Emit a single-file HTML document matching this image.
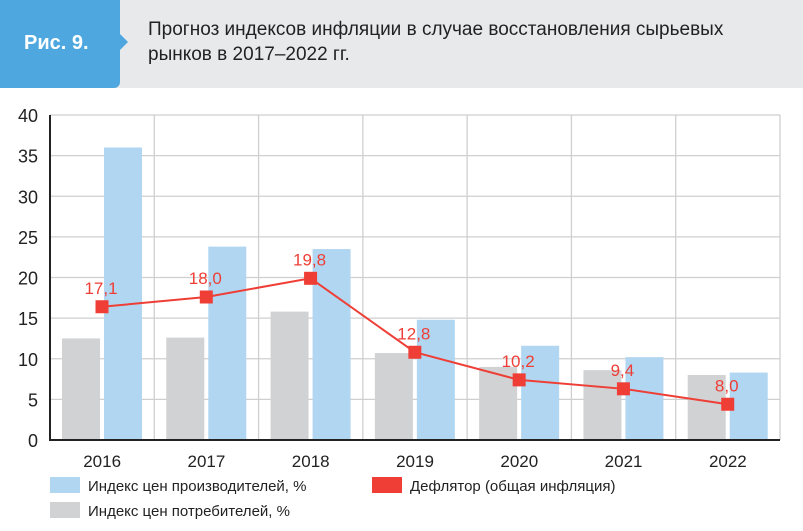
<!DOCTYPE html>
<html><head><meta charset="utf-8"><style>
body{margin:0;width:803px;height:531px;background:#fff;font-family:"Liberation Sans",sans-serif;overflow:hidden;position:relative}
#hdr{position:absolute;left:0;top:0;width:803px;height:88px;background:#e8e9eb}
#tab{position:absolute;left:0;top:0;width:120px;height:88px;background:#4ea7de;border-radius:0 0 6px 0}
#tab:after{content:"";position:absolute;right:-8px;top:34px;border-left:8px solid #4ea7de;border-top:8px solid transparent;border-bottom:8px solid transparent}
#tabtxt{position:absolute;left:24px;top:32px;color:#fff;font-weight:bold;font-size:20px}
#title{position:absolute;left:148px;top:17px;font-size:19px;line-height:25px;color:#222}
svg{position:absolute;left:0;top:0}
</style></head><body>
<div id="hdr"></div>
<div id="tab"><span id="tabtxt">Рис. 9.</span></div>
<div id="title">Прогноз индексов инфляции в случае восстановления сырьевых<br>рынков в 2017–2022 гг.</div>
<svg id="c" width="803" height="531"></svg>
<script>
const years=["2016","2017","2018","2019","2020","2021","2022"];
const ppi=[36,23.8,23.5,14.8,11.6,10.2,8.3];
const cpi=[12.5,12.6,15.8,10.7,9.0,8.6,8.0];
const defl=[16.4,17.6,19.9,10.8,7.4,6.3,4.4];
const deflLabels=["17,1","18,0","19,8","12,8","10,2","9,4","8,0"];
const yTicks=[0,5,10,15,20,25,30,35,40];
const NS="http://www.w3.org/2000/svg";
const svg=document.getElementById('c');
const L=50,R=780,T=115,B=440,ymax=40;
const y=v=>B-(v/ymax)*(B-T);
const gw=(R-L)/years.length;
const gx=i=>L+i*gw;
function mk(t,a,p){const e=document.createElementNS(NS,t);for(const k in a)e.setAttribute(k,a[k]);(p||svg).appendChild(e);return e;}
yTicks.forEach(v=>{
 const g=mk('line',{x1:L,x2:R,y1:y(v),y2:y(v),stroke:'#cfcfcf','stroke-width':1.3});
 
 
 const t=mk('text',{x:38,y:y(v)+7,'text-anchor':'end','font-size':18,fill:'#222'});t.textContent=v;
 
 
});
for(let i=1;i<=years.length;i++){
 const g=mk('line',{x1:gx(i),x2:gx(i),y1:T,y2:B,stroke:'#cfcfcf','stroke-width':1.3});
 
 
}
years.forEach((yr,i)=>{
 const x0=gx(i);
 const c=mk('rect',{x:x0+12,y:y(cpi[i]),width:38,height:B-y(cpi[i]),fill:'#d1d2d4'});
 
 
 const p=mk('rect',{x:x0+54,y:y(ppi[i]),width:38,height:B-y(ppi[i]),fill:'#b1d6f1'});
 
 
 const t=mk('text',{x:x0+gw/2,y:467,'text-anchor':'middle','font-size':17,fill:'#222'});t.textContent=yr;
 
 
});
const ax=mk('path',{d:`M${L} ${T}V${B}H${R}`,fill:'none',stroke:'#222','stroke-width':2});


const px=i=>gx(i)+52;
const ln=mk('polyline',{points:defl.map((v,i)=>px(i)+','+y(v)).join(' '),fill:'none',stroke:'#ee3e36','stroke-width':2});


defl.forEach((v,i)=>{
 const m=mk('rect',{x:px(i)-6.5,y:y(v)-6.5,width:13,height:13,fill:'#ee3e36'});
 
 
 const t=mk('text',{x:px(i)-1,y:y(v)-13,'text-anchor':'middle','font-size':17,fill:'#ee3e36'});t.textContent=deflLabels[i];
 
 
});
function leg(x,yy,col,txt,name){
 const g=mk('g',{});
 
 
 mk('rect',{x:x,y:yy-8,width:30,height:16,fill:col},g);
 const t=mk('text',{x:x+38,y:yy+6,'font-size':15,fill:'#222'},g);t.textContent=txt;
}
leg(50,485,'#b1d6f1','Индекс цен производителей, %','legend-ppi');
leg(372,485,'#ee3e36','Дефлятор (общая инфляция)','legend-deflator');
leg(50,510,'#d1d2d4','Индекс цен потребителей, %','legend-cpi');
</script>
</body></html>
